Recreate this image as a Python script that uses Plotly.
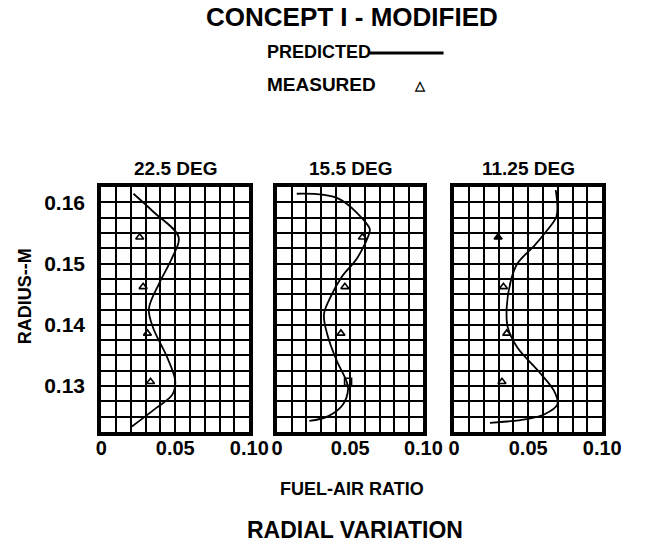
import plotly.graph_objects as go

# ---------------- data ----------------
panel_titles = ["22.5 DEG", "15.5 DEG", "11.25 DEG"]

# predicted curves (fuel-air ratio, radius m)
pred1_far = [0.0218, 0.035, 0.0523, 0.048, 0.039, 0.0322, 0.0349, 0.0447, 0.050, 0.048, 0.037, 0.0207]
pred1_r   = [0.1614, 0.1585, 0.1543, 0.151, 0.1467, 0.1426, 0.1396, 0.1346, 0.1308, 0.1286, 0.1264, 0.1234]

pred2_far = [0.0134, 0.0419, 0.0627, 0.0634, 0.055, 0.0441, 0.0364, 0.032, 0.0342, 0.0408, 0.0474, 0.0485, 0.045, 0.035, 0.022]
pred2_r   = [0.1614, 0.1606, 0.1560, 0.1554, 0.151, 0.1478, 0.1445, 0.1417, 0.1385, 0.1341, 0.1308, 0.1295, 0.127, 0.1251, 0.1243]

pred3_far = [0.0686, 0.0697, 0.0690, 0.061, 0.0545, 0.0427, 0.0383, 0.0355, 0.0362, 0.0427, 0.0567, 0.0675, 0.0697, 0.061, 0.049, 0.0242]
pred3_r   = [0.1620, 0.1595, 0.1576, 0.1549, 0.1530, 0.1500, 0.1472, 0.1428, 0.1396, 0.1363, 0.1325, 0.1292, 0.1270, 0.1254, 0.1246, 0.1240]

# measured points
meas_r = [0.1543, 0.1462, 0.1386, 0.1307]
meas1_far = [0.0260, 0.0283, 0.0312, 0.0333]
meas2_far = [0.0583, 0.0463, 0.0436, 0.0485]
meas3_far = [0.0297, 0.0333, 0.0355, 0.0323]

x_tickvals = [0, 0.05, 0.10]
x_ticktext = ["0", "0.05", "0.10"]
y_tickvals = [0.13, 0.14, 0.15, 0.16]
y_ticktext = ["0.13", "0.14", "0.15", "0.16"]

# ---------------- figure ----------------
FONT = "Liberation Sans, Arial, Helvetica, sans-serif"
W, H = 652, 548

fig = go.Figure()

preds = [(pred1_far, pred1_r), (pred2_far, pred2_r), (pred3_far, pred3_r)]
meas = [meas1_far, meas2_far, meas3_far]
symbols = [
    ["triangle-up-open"] * 4,
    ["triangle-up-open"] * 3 + ["square-open"],
    ["triangle-up"] + ["triangle-up-open"] * 3,
]

x_domains = [[99 / W, 253 / W], [282 / W, 434 / W], [466 / W, 620 / W]]
y_domain = [1 - 432 / H, 1 - 187 / H]

for i in range(3):
    ax = "" if i == 0 else str(i + 1)
    fig.add_trace(go.Scatter(
        x=preds[i][0], y=preds[i][1], mode="lines",
        line=dict(color="black", width=1.8, shape="spline", smoothing=1.0),
        xaxis="x" + ax, yaxis="y" + ax, showlegend=False, hoverinfo="skip"))
    fig.add_trace(go.Scatter(
        x=meas[i], y=meas_r, mode="markers",
        marker=dict(symbol=symbols[i], size=7, color="black",
                    line=dict(color="black", width=1.6)),
        xaxis="x" + ax, yaxis="y" + ax, showlegend=False, hoverinfo="skip"))

    xaxis = dict(
        domain=x_domains[i], range=[0, 0.10], anchor="y" + ax,
        tickmode="array", tickvals=x_tickvals, ticktext=x_ticktext,
        showgrid=True, gridcolor="black", gridwidth=1.6,
        minor=dict(tickmode="linear", tick0=0, dtick=0.01, showgrid=True,
                   gridcolor="black", gridwidth=1.6, ticks=""),
        showline=True, linecolor="black", linewidth=4, mirror=True,
        ticks="", zeroline=False, fixedrange=True,
        tickfont=dict(family=FONT, size=20, color="black", weight="bold"),
        ticklabelstandoff=-5,
    )
    yaxis = dict(
        domain=y_domain, range=[0.1225, 0.1625], anchor="x" + ax,
        tickmode="array", tickvals=y_tickvals, ticktext=y_ticktext,
        showticklabels=(i == 0),
        showgrid=True, gridcolor="black", gridwidth=1.6,
        minor=dict(tickmode="linear", tick0=0.1225, dtick=0.0025, showgrid=True,
                   gridcolor="black", gridwidth=1.6, ticks=""),
        showline=True, linecolor="black", linewidth=4, mirror=True,
        ticks="", zeroline=False, fixedrange=True,
        tickfont=dict(family=FONT, size=21, color="black", weight="bold"),
        ticklabelstandoff=8,
    )
    fig.update_layout(**{"xaxis" + ax: xaxis, "yaxis" + ax: yaxis})

    # panel title
    fig.add_annotation(
        text=panel_titles[i], xref="paper", yref="paper",
        x=(x_domains[i][0] + x_domains[i][1]) / 2, y=1 - 169 / H,
        showarrow=False, xanchor="center", yanchor="middle",
        font=dict(family=FONT, size=19, color="black", weight="bold"))

def ann(text, x, y, size, xanchor="center", angle=0):
    fig.add_annotation(
        text=text, xref="paper", yref="paper", x=x / W, y=1 - y / H,
        showarrow=False, xanchor=xanchor, yanchor="middle", textangle=angle,
        font=dict(family=FONT, size=size, color="black", weight="bold"))

ann("CONCEPT I - MODIFIED", 360, 17, 26)
ann("PREDICTED", 269, 52, 18, xanchor="left")
ann("MEASURED", 269, 84, 19, xanchor="left")
ann("\u25b3", 431, 86, 13)
ann("RADIUS--M", 20, 296, 18, angle=-90)
ann("FUEL-AIR RATIO", 360, 489, 18)
ann("RADIAL VARIATION", 363, 530, 23)

# legend line next to PREDICTED
fig.add_shape(type="line", xref="paper", yref="paper",
              x0=378 / W, x1=455 / W, y0=1 - 53 / H, y1=1 - 53 / H,
              line=dict(color="black", width=3))

fig.update_layout(
    width=W, height=H,
    margin=dict(l=0, r=0, t=0, b=0),
    paper_bgcolor="white", plot_bgcolor="white",
    showlegend=False,
)

fig.write_html("out.html", config={"displayModeBar": False},
               post_script="document.body.style.margin='0';document.body.style.overflow='hidden';")
